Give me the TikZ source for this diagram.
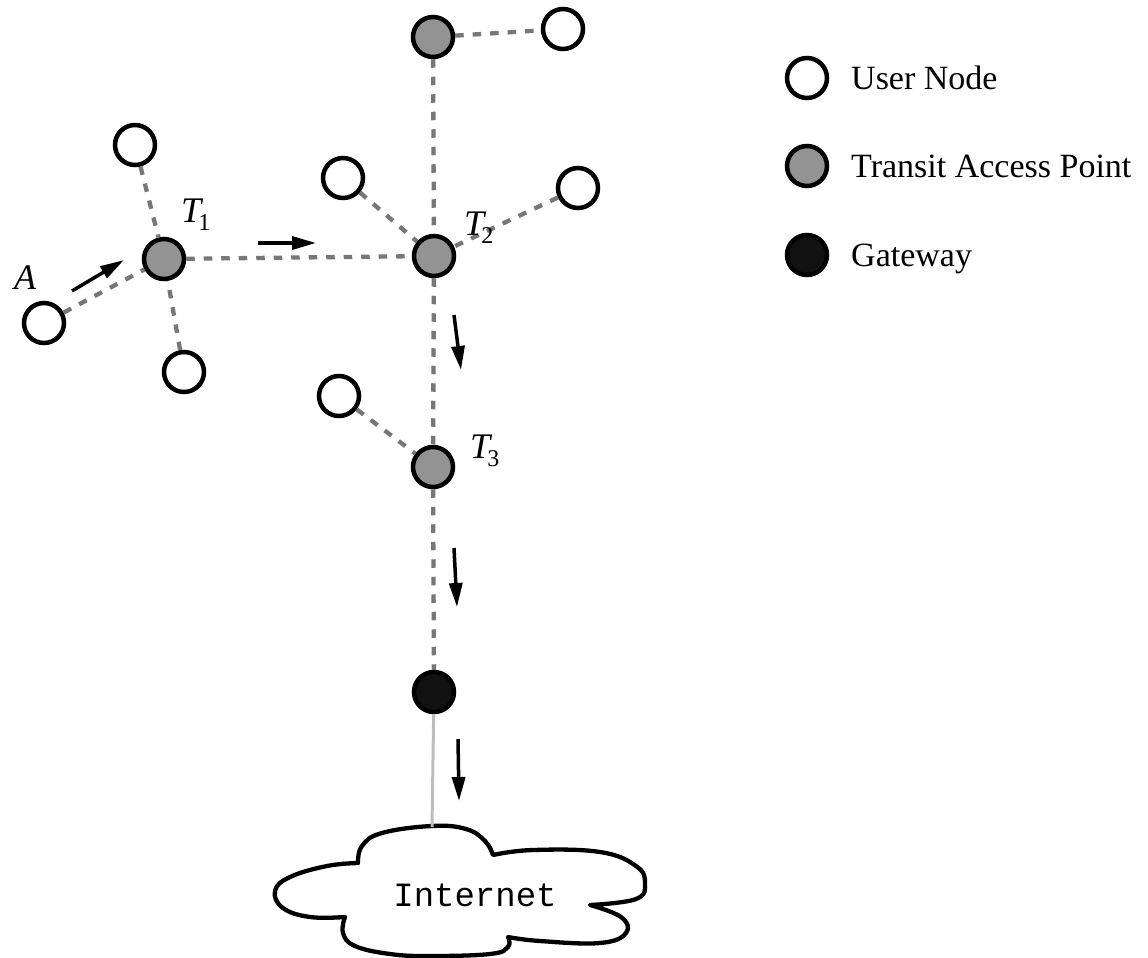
\documentclass[tikz,border=0pt]{standalone}
\usepackage{fontspec}
\setmainfont{Liberation Serif}
\setmonofont{Liberation Mono}
\usetikzlibrary{arrows.meta}
\definecolor{linkgray}{HTML}{777777}
\definecolor{tapgray}{HTML}{939393}
\definecolor{gwblack}{HTML}{111111}
\definecolor{wiregray}{HTML}{BDBDBD}
\begin{document}
\begin{tikzpicture}[x=1pt,y=-1pt,
  usernode/.style={circle,draw=black,line width=4.5pt,fill=white,minimum size=40pt,inner sep=0pt},
  tapnode/.style={usernode,fill=tapgray},
  gwnode/.style={usernode,fill=gwblack},
  link/.style={draw=linkgray,line width=4.3pt,dash pattern=on 8.5pt off 9pt},
  wire/.style={draw=wiregray,line width=3pt},
  flow/.style={draw=black,line width=3.5pt,-{Triangle[length=24pt,width=13pt]}},
  lbl/.style={inner sep=0pt,anchor=base west,font=\fontsize{36}{36}\selectfont},
  legtext/.style={inner sep=0pt,anchor=base west,font=\fontsize{34}{34}\selectfont}
]
\useasboundingbox (0,0) rectangle (1148,958);
\newcommand{\Tlab}[1]{\textit{T}\kern-5pt\raisebox{-8pt}{\fontsize{24}{24}\selectfont #1}}

% cloud
\coordinate (cloudtop) at (432,827);
\draw[line width=4.3pt,fill=white,line join=round]
  plot[smooth,tension=0.7] coordinates {(345,917) (310,917) (283,908) (275,891) (290,877) (327,866) (358,863)}
  -- plot[smooth,tension=0.7] coordinates {(358,863) (362,846) (382,833) (432,826) (466,829) (485,841) (493,855)}
  -- plot[smooth,tension=0.7] coordinates {(493,855) (533,850) (600,852) (636,866) (645,883) (636,899) (590,905)}
  -- plot[smooth,tension=0.7] coordinates {(590,905) (621,917) (626,933) (600,943) (540,941) (508,937)}
  -- plot[smooth,tension=0.7] coordinates {(508,937) (508,947) (490,954) (430,956) (390,954) (355,946) (343,933) (345,917)}
  -- cycle;
\node[inner sep=0pt,anchor=base,font=\ttfamily\fontsize{34}{34}\selectfont] (internet) at (475,906) {Internet};

% nodes
\node[usernode] (A) at (44,323) {};
\node[usernode] (u1) at (135,145) {};
\node[usernode] (u2) at (184,372) {};
\node[tapnode] (T1) at (164,259) {};
\node[tapnode] (T2) at (434,256) {};
\node[usernode] (u3) at (343,178) {};
\node[usernode] (u4) at (578,188) {};
\node[tapnode] (T0) at (433,37) {};
\node[usernode] (u5) at (563,29) {};
\node[tapnode] (T3) at (433,467) {};
\node[usernode] (u6) at (339,396) {};
\node[gwnode] (gw) at (434,692) {};

% links
\draw[link] (A) -- (T1);
\draw[link] (u1) -- (T1);
\draw[link] (u2) -- (T1);
\draw[link] (T1) -- (T2);
\draw[link] (u3) -- (T2);
\draw[link] (u4) -- (T2);
\draw[link] (T0) -- (T2);
\draw[link] (T0) -- (u5);
\draw[link] (T2) -- (T3);
\draw[link] (u6) -- (T3);
\draw[link] (T3) -- (gw);
\draw[wire] (gw) -- (cloudtop);

% labels
\node[lbl] (labA) at (14,289) {\textit{A}};
\node[lbl] (labT1) at (181,222) {\Tlab{1}};
\node[lbl] (labT2) at (464,235) {\Tlab{2}};
\node[lbl] (labT3) at (470,458) {\Tlab{3}};

% flow arrows
\coordinate (f1s) at (72,291); \coordinate (f1e) at (124,260);
\coordinate (f2s) at (258,243); \coordinate (f2e) at (316,243);
\coordinate (f3s) at (454,315); \coordinate (f3e) at (461,370);
\coordinate (f4s) at (454,548); \coordinate (f4e) at (457,607);
\coordinate (f5s) at (458,739); \coordinate (f5e) at (459,801);
\draw[flow] (f1s) -- (f1e);
\draw[flow] (f2s) -- (f2e);
\draw[flow] (f3s) -- (f3e);
\draw[flow] (f4s) -- (f4e);
\draw[flow] (f5s) -- (f5e);

% legend
\node[usernode] (legU) at (807,78) {};
\node[tapnode] (legT) at (807,166) {};
\node[gwnode] (legG) at (807,255) {};
\node[legtext] (legUt) at (851,89) {User Node};
\node[legtext] (legTt) at (851,177) {Transit Access Point};
\node[legtext] (legGt) at (851,266) {Gateway};
\end{tikzpicture}
\end{document}
